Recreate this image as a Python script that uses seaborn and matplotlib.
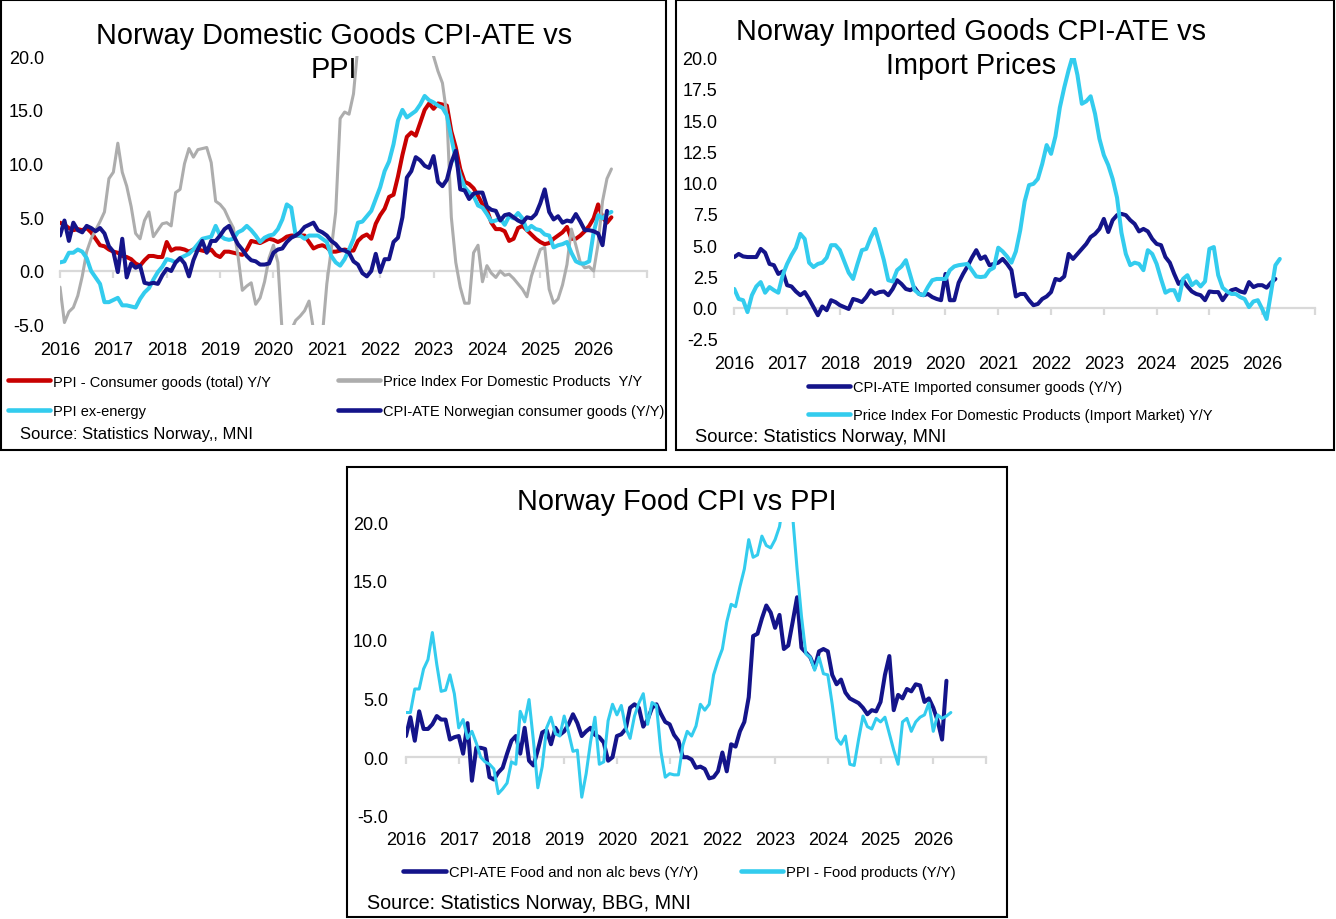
import numpy as np
import pandas as pd
import matplotlib
matplotlib.use("Agg")
import matplotlib.pyplot as plt
import seaborn as sns
from matplotlib.patches import Rectangle
from matplotlib.lines import Line2D

# ---------------- data (monthly, starting Jan 2016) ----------------
years = list(range(2016, 2027))
year_labels = [str(y) for y in years]

# Panel 1: Norway Domestic Goods CPI-ATE vs PPI
p1_ppi_consumer = [
    4.5, 4.3, 4.0, 3.8, 3.9, 3.8, 4.0, 3.6, 3.0, 2.4,
    2.3, 2.0, 1.8, 1.7, 1.4, 1.3, 1.1, 0.7, 0.5, 1.0,
    1.4, 1.4, 1.3, 1.3, 2.7, 1.9, 2.1, 2.1, 2.0, 1.8,
    2.0, 2.0, 1.9, 1.8, 2.0, 1.5, 1.3, 1.8, 1.8, 1.7,
    1.6, 1.5, 2.0, 2.8, 2.7, 2.6, 2.8, 3.0, 2.9, 2.7,
    2.9, 3.2, 3.3, 3.3, 3.3, 3.3, 2.7, 2.1, 2.3, 2.4,
    2.2, 1.8, 1.8, 1.9, 2.0, 1.9, 1.9, 2.8, 3.2, 3.4,
    3.0, 4.4, 5.2, 5.8, 6.9, 7.1, 8.8, 10.8, 12.5, 12.9,
    12.6, 13.8, 15.0, 15.6, 15.1, 15.6, 15.5, 15.4, 13.0, 11.5,
    9.5, 8.3, 8.1, 7.7, 7.0, 6.2, 5.7, 4.5, 3.9, 3.9,
    3.7, 2.8, 3.0, 4.0, 4.2, 3.8, 3.4, 3.0, 2.7, 2.5,
    2.6, 3.0, 3.3, 3.6, 4.1, 3.0, 3.0, 3.3, 3.7, 4.2,
    4.9, 6.2, 5.0, 4.5, 5.0]
p1_domestic_products = [
    -1.5, -4.8, -3.8, -3.4, -2.3, -0.5, 1.8, 3.0, 3.8, 4.6,
    5.5, 8.6, 9.2, 11.9, 9.2, 7.9, 6.0, 3.5, 3.0, 4.7,
    5.5, 3.2, 3.8, 4.4, 4.5, 4.2, 7.3, 7.6, 10.0, 11.4,
    10.6, 11.3, 11.4, 11.5, 10.1, 6.5, 6.2, 5.7, 4.8, 4.0,
    1.5, -1.8, -1.4, -1.1, -3.1, -2.5, -1.0, 1.2, 2.4, 0.8,
    -6.0, -8.0, -5.5, -4.6, -4.2, -3.7, -2.8, -5.5, -7.5, -6.0,
    -1.2, 2.0, 5.5, 14.2, 14.8, 14.6, 16.5, 21.0, 24.0, 27.0,
    31.0, 34.0, 38.0, 42.0, 45.0, 48.0, 50.0, 52.0, 50.0, 46.0,
    40.0, 33.0, 27.0, 21.5, 20.0, 18.6, 17.5, 14.5, 5.0, 0.8,
    -1.5, -3.0, -3.0, 1.7, 2.4, -1.0, 0.5, -0.2, -0.6, 0.0,
    -0.4, -0.3, -0.7, -1.2, -1.7, -2.4, -0.5, 0.8, 2.0, 2.2,
    -1.7, -3.0, -2.6, -1.3, 0.6, 3.9, 2.4, 0.8, 0.3, 0.4,
    0.0, 2.5, 6.5, 8.6, 9.5]
p1_ppi_ex_energy = [
    0.8, 0.9, 1.7, 1.7, 2.0, 1.8, 1.2, 0.0, -0.6, -1.2,
    -2.9, -2.9, -2.7, -2.5, -3.2, -3.2, -3.3, -3.4, -2.6, -2.0,
    -1.6, -0.8, -0.1, 0.4, 1.1, 1.0, 0.8, 1.2, 1.4, 1.6,
    2.0, 2.5, 3.0, 3.1, 3.2, 4.2, 3.3, 3.0, 2.9, 3.0,
    3.6, 3.8, 4.2, 3.8, 3.3, 2.7, 3.1, 3.3, 3.4, 3.9,
    4.8, 6.2, 5.9, 3.3, 3.3, 3.0, 3.3, 3.3, 3.3, 3.0,
    2.7, 1.4, 0.8, 0.5, 1.1, 2.0, 3.0, 4.5, 4.6, 5.1,
    5.6, 6.7, 7.8, 9.3, 10.2, 11.8, 14.0, 15.0, 14.3, 14.6,
    14.9, 15.5, 16.3, 15.9, 15.7, 15.4, 15.2, 14.5, 12.4, 10.4,
    8.9, 7.8, 7.3, 7.0, 6.1, 5.9, 5.3, 4.6, 4.7, 4.9,
    4.3, 5.1, 4.9, 5.4, 4.9, 3.8, 4.2, 3.9, 3.8, 3.4,
    3.3, 2.2, 2.4, 2.5, 2.7, 1.7, 0.9, 0.7, 0.7, 0.9,
    3.6, 5.2, 4.9, 5.3, 5.5]
p1_cpi_ate_norwegian = [
    3.3, 4.7, 2.8, 4.5, 3.8, 3.6, 4.2, 4.0, 3.7, 4.0,
    3.5, 2.3, 1.8, -0.1, 3.0, -0.6, 0.7, 0.3, 0.5, -1.1,
    -1.2, -1.1, -1.2, -0.4, 0.2, 0.0, 0.8, 1.2, 0.7, -0.5,
    1.0, 2.0, 2.8, 1.7, 2.8, 2.8, 3.3, 3.9, 4.2, 3.3,
    2.5, 2.0, 1.4, 1.0, 0.9, 0.6, 0.6, 0.7, 1.7, 2.0,
    2.1, 2.7, 3.1, 3.3, 3.6, 4.1, 4.3, 4.5, 3.8, 3.6,
    3.3, 2.8, 2.5, 2.0, 1.9, 1.7, 0.9, 0.6, -0.2, -0.5,
    0.0, 1.6, -0.1, 1.1, 1.1, 2.7, 3.1, 5.0, 8.7, 9.3,
    10.6, 10.3, 9.8, 9.6, 10.7, 8.3, 7.9, 8.5, 10.1, 11.2,
    7.6, 7.5, 6.7, 7.2, 7.3, 7.3, 6.0, 5.7, 5.6, 4.7,
    5.2, 5.3, 5.0, 4.7, 4.5, 5.0, 4.9, 5.3, 6.3, 7.6,
    5.5, 4.8, 5.1, 4.5, 4.7, 4.6, 5.3, 4.6, 3.8, 3.8,
    3.7, 3.5, 2.4, 5.6]

# Panel 2: Norway Imported Goods CPI-ATE vs Import Prices
p2_cpi_ate_imported = [
    4.05, 4.3, 4.1, 4.05, 4.05, 4.05, 4.7, 4.4, 3.5, 3.4,
    2.7, 2.9, 1.8, 1.7, 1.3, 1.0, 1.25, 0.7, 0.05, -0.6,
    0.1, -0.2, 0.6, 0.45, 0.2, 0.05, -0.1, 0.7, 0.6, 0.45,
    0.85, 1.4, 1.1, 1.25, 1.3, 1.0, 1.5, 2.2, 1.9, 1.5,
    1.4, 1.6, 1.1, 1.0, 1.1, 0.85, 0.7, 0.6, 2.7, 0.6,
    0.6, 2.0, 2.7, 3.3, 4.0, 4.6, 3.9, 4.1, 3.4, 3.5,
    3.6, 3.9, 3.5, 3.0, 0.9, 1.1, 1.1, 0.6, 0.2, 0.3,
    0.7, 0.9, 1.25, 2.3, 2.2, 2.5, 4.3, 3.9, 4.3, 4.7,
    5.1, 5.65, 5.9, 6.3, 7.1, 6.05, 7.0, 7.4, 7.5, 7.4,
    7.0, 6.7, 6.1, 6.3, 6.1, 5.5, 5.1, 5.0, 4.05, 3.6,
    2.7, 1.9, 2.2, 1.7, 1.3, 1.1, 1.0, 0.6, 1.3, 1.25,
    1.25, 0.6, 1.1, 1.4, 1.5, 1.3, 1.2, 2.05, 1.65, 1.8,
    1.8, 1.6, 2.0, 2.3]
p2_import_market = [
    1.5, 0.7, 0.6, -0.35, 1.0, 1.7, 2.05, 1.2, 1.65, 1.4,
    1.2, 2.6, 3.5, 4.2, 4.8, 5.9, 5.5, 3.6, 3.25, 3.5,
    3.6, 4.0, 5.0, 5.0, 4.6, 3.7, 2.8, 2.3, 3.5, 4.6,
    4.7, 5.6, 6.3, 5.1, 3.8, 2.2, 2.1, 3.0, 3.3, 3.8,
    2.6, 1.4, 1.1, 1.0, 1.65, 2.2, 2.3, 2.3, 2.3, 3.0,
    3.3, 3.4, 3.45, 3.5, 3.0, 2.5, 2.45, 2.5, 3.0, 3.2,
    4.8, 4.5, 4.1, 3.6, 4.5, 6.2, 8.5, 9.8, 9.9, 10.3,
    11.5, 13.0, 12.3, 13.7, 16.0, 17.6, 19.0, 20.2, 18.6, 16.3,
    16.5, 16.9, 15.5, 13.5, 12.2, 11.4, 10.3, 8.8, 6.0, 4.3,
    3.4, 3.6, 3.5, 3.0, 4.6, 4.3, 3.5, 2.3, 1.2, 1.4,
    1.4, 0.6, 2.3, 2.6, 1.8, 2.1, 1.7, 2.1, 4.7, 4.85,
    2.6, 1.6, 1.3, 1.1, 1.1, 0.85, 0.7, 0.05, 0.5, 0.6,
    -0.1, -0.9, 1.2, 3.4, 3.9]

# Panel 3: Norway Food CPI vs PPI
p3_cpi_ate_food = [
    1.8, 3.4, 1.4, 3.9, 2.4, 2.4, 2.8, 3.5, 3.2, 3.2,
    1.5, 1.7, 1.8, 0.3, 2.9, -2.0, 0.8, 0.8, 0.7, -1.7,
    -1.9, -1.3, -0.9, 0.3, 1.4, 1.8, 0.3, 2.5, -0.3, -0.7,
    0.6, 2.1, 2.3, 1.1, 2.5, 1.9, 2.2, 2.8, 3.65, 2.9,
    1.8, 2.2, 2.5, 1.9, 1.7, 1.25, -0.3, 0.0, 1.8, 1.95,
    2.4, 4.2, 4.5, 4.2, 2.6, 3.2, 4.2, 4.5, 3.7, 3.0,
    2.8, 1.9, 1.4, 0.0, 0.0, -0.2, -0.9, -0.8, -1.0, -1.8,
    -1.7, -1.2, 0.4, -1.2, 1.1, 0.9, 2.2, 3.0, 5.1, 10.3,
    10.5, 11.8, 12.9, 12.3, 11.0, 12.1, 9.2, 9.5, 11.5, 13.6,
    9.3, 8.9, 8.5, 7.6, 9.0, 9.2, 9.0, 7.0, 6.2, 6.6,
    5.5, 5.0, 4.8, 4.6, 4.2, 3.65, 4.0, 3.9, 4.7, 7.0,
    8.6, 4.0, 5.3, 5.0, 5.8, 5.6, 6.2, 6.1, 4.7, 5.0,
    4.2, 3.1, 1.5, 6.5]
p3_ppi_food = [
    3.8, 3.8, 5.8, 5.8, 7.5, 8.3, 10.6, 7.9, 5.6, 5.7,
    7.0, 5.4, 2.5, 3.2, 1.6, 2.2, 1.2, 0.0, -0.4, -0.6,
    -1.0, -3.1, -2.7, -2.2, -0.4, -0.6, 3.9, 3.0, 4.9, 1.4,
    -2.6, -0.8, 2.5, 3.4, 2.0, 1.8, 3.5, 2.1, 0.5, 0.6,
    -3.4, -1.4, 1.3, 3.4, -0.6, -0.4, 3.1, 4.5, 3.6, 4.4,
    2.5, 1.6, 3.5, 4.6, 5.4, 2.8, 4.65, 4.4, 0.5, -1.7,
    -1.4, -1.5, -1.5, 1.0, 2.2, 1.8, 2.65, 4.5, 4.0, 4.5,
    7.0, 8.2, 9.2, 11.5, 13.0, 12.8, 14.5, 16.0, 18.5, 17.0,
    17.2, 18.8, 18.0, 17.8, 18.5, 19.6, 22.0, 22.0, 20.5, 16.0,
    12.0, 8.8, 8.5, 7.4, 8.5, 7.1, 7.0, 4.5, 1.6, 1.1,
    1.8, -0.6, -0.7, 1.5, 3.5, 2.6, 2.4, 3.3, 3.0, 3.4,
    2.0, 0.6, -0.6, 3.0, 3.3, 2.2, 3.0, 3.4, 3.6, 4.6,
    2.2, 3.6, 3.3, 3.5, 3.8]

# ---------------- styling ----------------
RED = "#C80000"
GREY = "#ADADAD"
CYAN = "#33CCEE"
NAVY = "#14148A"
ZERO = "#D9D9D9"

sns.set_theme(style="white")
plt.rcParams["font.family"] = ["Liberation Sans", "DejaVu Sans"]
plt.rcParams["text.color"] = "black"
plt.rcParams["xtick.color"] = "black"
plt.rcParams["ytick.color"] = "black"

W, H = 1336, 920
fig = plt.figure(figsize=(W / 100, H / 100), dpi=100)


def px_axes(x0, x1, y_top, y_bot):
    return fig.add_axes([x0 / W, 1 - y_bot / H, (x1 - x0) / W, (y_bot - y_top) / H])


def months(vals):
    return 2016 + np.arange(len(vals)) / 12.0


def style_axes(ax, ylim, yticks, ypad, xpad):
    ax.set_xlim(2016, 2027)
    ax.set_ylim(*ylim)
    ax.set_yticks(yticks)
    ax.set_yticklabels([f"{v:.1f}" for v in yticks])
    ax.tick_params(axis="y", length=0, pad=ypad, labelsize=13, labelcolor="black")
    for s in ["left", "right", "top"]:
        ax.spines[s].set_visible(False)
    sp = ax.spines["bottom"]
    sp.set_position(("data", 0))
    sp.set_color(ZERO)
    sp.set_linewidth(1.6)
    sp.set_zorder(0.5)
    ax.set_xticks(range(2016, 2028))
    ax.tick_params(axis="x", bottom=True, direction="out", length=5, width=1.6,
                   color=ZERO, labelbottom=False)
    sec = ax.secondary_xaxis("bottom")
    sec.set_xticks(years)
    sec.set_xticklabels(year_labels)
    sec.tick_params(length=0, pad=xpad, labelsize=13, labelcolor="black")
    sec.spines["bottom"].set_visible(False)
    ax.set_xlabel("")
    ax.set_ylabel("")
    ax.grid(False)
    ax.patch.set_alpha(0)


def line(ax, vals, color, lw):
    sns.lineplot(x=months(vals), y=vals, ax=ax, color=color, linewidth=lw,
                 legend=False, estimator=None)


# ---------------- panel frames ----------------
for (x0, y0, x1, y1) in [(1, 1, 666, 451), (676, 1, 1334, 451), (347, 468, 1007, 918)]:
    fig.add_artist(Rectangle((x0 / W, 1 - y1 / H), (x1 - x0) / W, (y1 - y0) / H,
                             transform=fig.transFigure, fill=False,
                             edgecolor="black", linewidth=1.5))

# ---------------- panel 1 ----------------
ax1 = px_axes(60, 647, 57.2, 325.7)
line(ax1, p1_ppi_consumer, RED, 2.9)
line(ax1, p1_domestic_products, GREY, 2.2)
line(ax1, p1_ppi_ex_energy, CYAN, 2.9)
line(ax1, p1_cpi_ate_norwegian, NAVY, 2.9)
style_axes(ax1, (-5, 20), [-5, 0, 5, 10, 15, 20], 11.5, 12)

fig.text(334 / W, 1 - 36.5 / H, "Norway Domestic Goods CPI-ATE vs", ha="center",
         va="center", fontsize=20.8)
fig.text(334 / W, 1 - 69.5 / H, "PPI", ha="center", va="center", fontsize=20.8)

h1 = [Line2D([], [], color=RED, lw=3.3), Line2D([], [], color=CYAN, lw=3.3),
      Line2D([], [], color=GREY, lw=3.3), Line2D([], [], color=NAVY, lw=3.3)]
l1 = ["PPI - Consumer goods (total) Y/Y", "PPI ex-energy",
      "Price Index For Domestic Products  Y/Y", "CPI-ATE Norwegian consumer goods (Y/Y)"]
fig.legend(h1, l1, loc="upper left", bbox_to_anchor=(8 / W, 1 - 375.5 / H), ncol=2,
           frameon=False, borderpad=0, borderaxespad=0, handlelength=2.9,
           handletextpad=0.2, columnspacing=4.6, labelspacing=1.05, fontsize=10.5)
fig.text(20 / W, 1 - 435 / H, "Source: Statistics Norway,, MNI", ha="left",
         va="center", fontsize=12)

# ---------------- panel 2 ----------------
ax2 = px_axes(734.3, 1315, 58.5, 340)
line(ax2, p2_cpi_ate_imported, NAVY, 2.9)
line(ax2, p2_import_market, CYAN, 2.9)
style_axes(ax2, (-2.5, 20), [-2.5, 0, 2.5, 5, 7.5, 10, 12.5, 15, 17.5, 20], 12, 11.5)

fig.text(971 / W, 1 - 31.5 / H, "Norway Imported Goods CPI-ATE vs", ha="center",
         va="center", fontsize=20.8)
fig.text(971 / W, 1 - 65.5 / H, "Import Prices", ha="center", va="center", fontsize=20.8)

h2 = [Line2D([], [], color=NAVY, lw=3.3), Line2D([], [], color=CYAN, lw=3.3)]
l2 = ["CPI-ATE Imported consumer goods (Y/Y)",
      "Price Index For Domestic Products (Import Market) Y/Y"]
fig.legend(h2, l2, loc="upper left", bbox_to_anchor=(808 / W, 1 - 381.5 / H), ncol=1,
           frameon=False, borderpad=0, borderaxespad=0, handlelength=2.9,
           handletextpad=0.2, labelspacing=0.95, fontsize=10.5)
fig.text(695 / W, 1 - 438 / H, "Source: Statistics Norway, MNI", ha="left",
         va="center", fontsize=13.2)

# ---------------- panel 3 ----------------
ax3 = px_axes(406, 986, 523, 817)
line(ax3, p3_cpi_ate_food, NAVY, 2.9)
line(ax3, p3_ppi_food, CYAN, 2.2)
style_axes(ax3, (-5, 20), [-5, 0, 5, 10, 15, 20], 13, 11)

fig.text(677 / W, 1 - 501.5 / H, "Norway Food CPI vs PPI", ha="center", va="center",
         fontsize=20.8)

h3 = [Line2D([], [], color=NAVY, lw=3.3), Line2D([], [], color=CYAN, lw=3.3)]
l3 = ["CPI-ATE Food and non alc bevs (Y/Y)", "PPI - Food products (Y/Y)"]
fig.legend(h3, l3, loc="upper left", bbox_to_anchor=(403 / W, 1 - 866.5 / H), ncol=2,
           frameon=False, borderpad=0, borderaxespad=0, handlelength=2.9,
           handletextpad=0.2, columnspacing=2.9, fontsize=10.6)
fig.text(367 / W, 1 - 904 / H, "Source: Statistics Norway, BBG, MNI", ha="left",
         va="center", fontsize=14.2)

fig.savefig("out.png", dpi=100, facecolor="white")
